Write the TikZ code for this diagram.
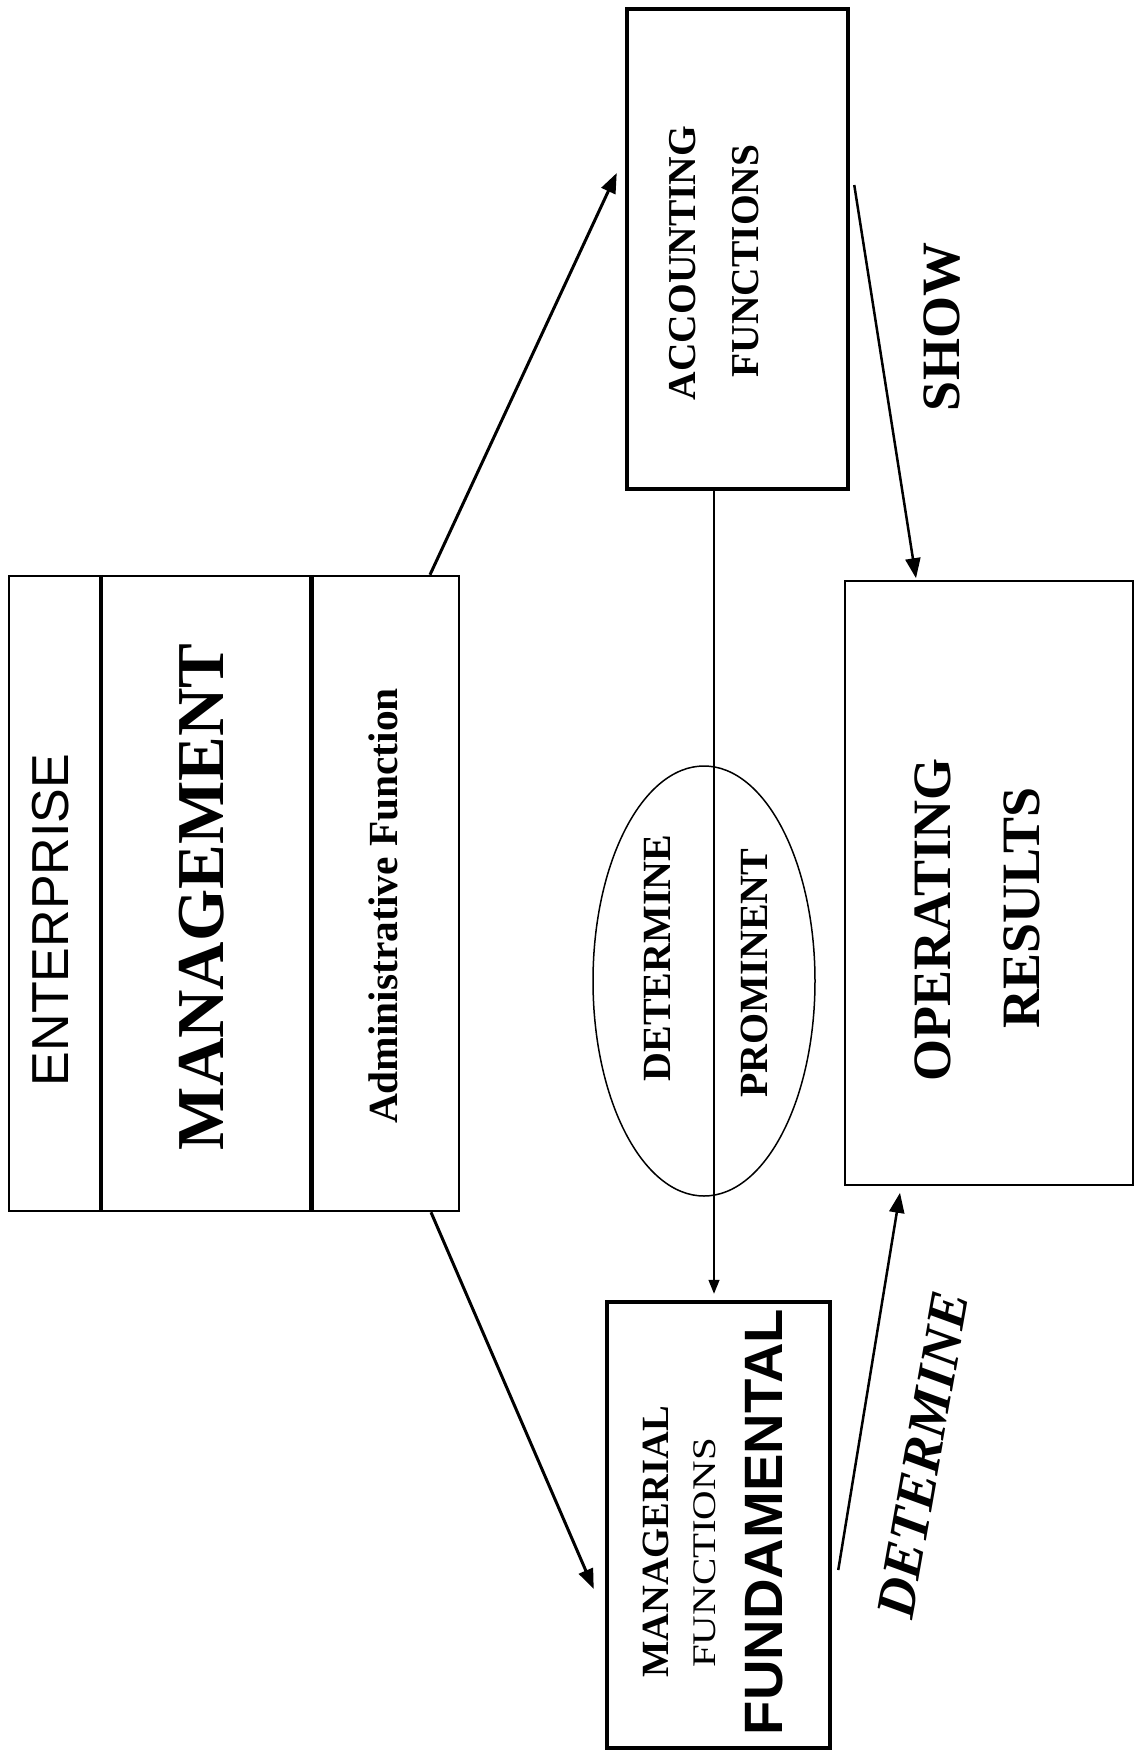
\documentclass[tikz,border=0pt]{standalone}
\usepackage{fontspec}
\setmainfont{Liberation Serif}
\setsansfont{Liberation Sans}
\usetikzlibrary{shapes.geometric,arrows.meta,positioning,calc}
\tikzset{
    column/.style={rectangle, draw, line width=2.5pt, inner sep=0pt, minimum height=635pt},
    heavybox/.style={rectangle, draw, line width=4.5pt, inner sep=0pt},
    lightbox/.style={rectangle, draw, line width=1.6pt, inner sep=0pt},
    oval/.style={ellipse, draw, line width=1.5pt, inner sep=0pt},
    vtext/.style={rotate=90, inner sep=0pt},
    tnrbold/.style={font=\bfseries\fontsize{#1}{#1}\selectfont},
    tnrplain/.style={font=\fontsize{#1}{#1}\selectfont},
    sansbold/.style={font=\sffamily\bfseries\fontsize{#1}{#1}\selectfont},
    link/.style={draw, line width=3pt, -{Triangle[length=20pt,width=15pt]}},
    thinlink/.style={draw, line width=1.4pt, -{Triangle[length=14pt,width=11pt]}}
}
\begin{document}
\begin{tikzpicture}[x=1pt, y=-1pt]
    \useasboundingbox (0,0) rectangle (1136,1761);

    \node [column, minimum width=93pt] (enterprise) at (55.5,893.5) {};
    \node [column, minimum width=208pt] (management) at (206,893.5) {};
    \node [column, minimum width=149pt] (admin) at (384.5,893.5) {};
    \draw [line width=4.5pt] (management.north west) -- (management.south west);
    \draw [line width=4.5pt] (management.north east) -- (management.south east);

    \node [heavybox, minimum width=221pt, minimum height=480pt] (acct) at (737.5,249) {};
    \node [lightbox, minimum width=288pt, minimum height=604pt] (oper) at (989,883) {};
    \node [heavybox, minimum width=223pt, minimum height=446pt] (manag) at (718.5,1525) {};
    \node [oval, minimum width=222pt, minimum height=430pt] (prom) at (704,981) {};

    \node [vtext, font=\sffamily\fontsize{52}{52}\selectfont] (entlabel) at (51,920) {ENTERPRISE};
    \node [vtext, tnrbold=67] (mgmtlabel) at (202,897) {MANAGEMENT};
    \node [vtext, tnrbold=41.4] (adminlabel) at (383,906) {Administrative Function};

    \node [vtext, tnrbold=39.5] (acctone) at (683,263) {ACCOUNTING};
    \node [vtext, tnrbold=39.5] (accttwo) at (746,261) {FUNCTIONS};

    \node [vtext, tnrbold=40] (promone) at (657,958) {DETERMINE};
    \node [vtext, tnrbold=40] (promtwo) at (754,973) {PROMINENT};

    \node [vtext, tnrbold=54] (operone) at (933,920) {OPERATING};
    \node [vtext, tnrbold=54] (opertwo) at (1022,908) {RESULTS};

    \node [vtext, tnrbold=38.5] (managone) at (656,1542) {MANAGERIAL};
    \node [vtext, tnrplain=33, xscale=1.24] (managtwo) at (705,1553) {FUNCTIONS};
    \node [vtext, sansbold=54, xscale=1.04] (managthree) at (764,1522) {FUNDAMENTAL};

    \node [vtext, tnrbold=54] (showlabel) at (942,327) {SHOW};
    \node [rotate=80, inner sep=0pt, font=\bfseries\itshape\fontsize{55}{55}\selectfont] (detlabel) at (923,1455) {DETERMINE};

    \path [link] ([xshift=45.5pt]admin.north) -- ([xshift=-8pt,yshift=76pt]acct.west);
    \path [link] ([xshift=46.5pt]admin.south) -- ([xshift=-11pt,yshift=-64pt]manag.west);
    \path [thinlink] ([xshift=-23.5pt]acct.south) -- ([xshift=-23.5pt,yshift=6pt]acct.south |- manag.north);
    \path [link, line width=2.5pt] ([xshift=4pt,yshift=64pt]acct.east) -- ([xshift=-73pt,yshift=2pt]oper.north);
    \path [link, line width=2.5pt] ([xshift=6pt,yshift=-45pt]manag.east) -- ([xshift=-89pt,yshift=-7pt]oper.south);
\end{tikzpicture}
\end{document}
